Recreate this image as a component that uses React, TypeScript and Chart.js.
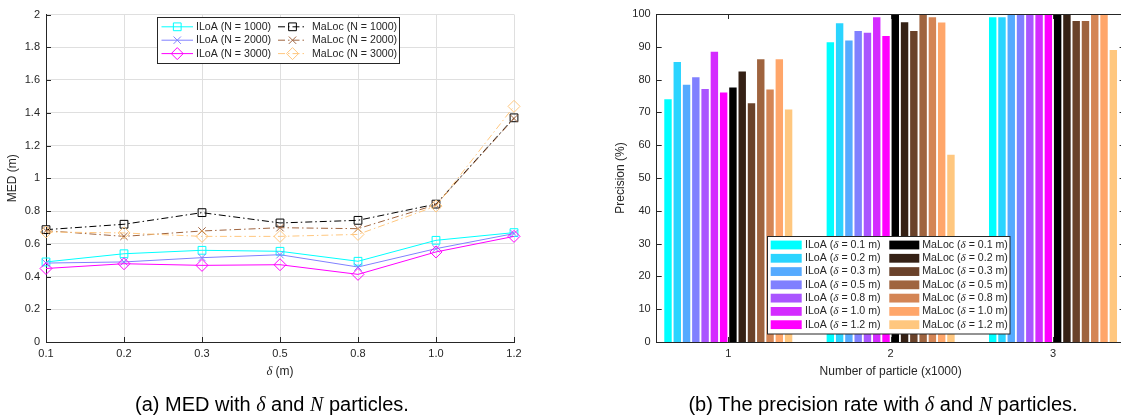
import React, { useEffect, useRef } from 'react';
import { Chart, registerables } from 'chart.js';

Chart.register(...registerables);

// ---------------- (a) MED data ----------------
const deltaLabels = ['0.1', '0.2', '0.3', '0.5', '0.8', '1.0', '1.2'];
const methods = ['ILoA', 'MaLoc'];
const particleCounts = ['1000', '2000', '3000'];

const medIloa1000 = [0.489, 0.539, 0.56, 0.554, 0.493, 0.621, 0.668];
const medIloa2000 = [0.482, 0.489, 0.515, 0.533, 0.458, 0.57, 0.662];
const medIloa3000 = [0.449, 0.478, 0.468, 0.472, 0.413, 0.55, 0.645];
const medMaloc1000 = [0.686, 0.719, 0.79, 0.727, 0.743, 0.842, 1.369];
const medMaloc2000 = [0.68, 0.645, 0.678, 0.698, 0.692, 0.838, 1.365];
const medMaloc3000 = [0.672, 0.666, 0.645, 0.645, 0.657, 0.83, 1.439];

const medYMin = 0;
const medYMax = 2;
const medYStep = 0.2;

// ---------------- (b) precision data ----------------
const particleGroups = [1, 2, 3];
const precIloa01 = [74.0, 91.4, 99.0];
const precIloa02 = [85.4, 97.2, 99.0];
const precIloa03 = [78.4, 91.9, 100];
const precIloa05 = [80.7, 94.8, 100];
const precIloa08 = [77.1, 94.3, 100];
const precIloa10 = [88.5, 99.0, 100];
const precIloa12 = [76.1, 93.3, 100];
const precMaloc01 = [77.6, 100, 100];
const precMaloc02 = [82.5, 97.5, 100];
const precMaloc03 = [72.8, 94.8, 97.9];
const precMaloc05 = [86.2, 100, 97.9];
const precMaloc08 = [77.0, 99.0, 100];
const precMaloc10 = [86.2, 97.4, 100];
const precMaloc12 = [70.9, 57.1, 89.0];

const precYMin = 0;
const precYMax = 100;
const precYStep = 10;
const precXMin = 0.559;
const precXMax = 3.441;

// ---------------- styles ----------------
const SANS = '"Liberation Sans", Arial, Helvetica, sans-serif';
const SERIF = '"Liberation Serif", "DejaVu Serif", serif';
const TEXT = '#262626';
const AXIS = '#262626';
const GRID = '#DFDFDF';
const DASHDOT = [7, 3, 1.5, 3];

const iloaColors = ['#00FFFF', '#2AD4FF', '#55AAFF', '#8080FF', '#AA55FF', '#D42BFF', '#FF00FF'];
const malocColors = ['#000000', '#352115', '#6A422A', '#9F643F', '#D48555', '#FFA66A', '#FFC77F'];

const medLineColors = [
  ['#00FFFF', '#8080FF', '#FF00FF'],
  ['#000000', '#9F643F', '#FFC77F'],
];
const medMarkers = ['rect', 'crossRot', 'rectRot'];
const markerRadius: Record<string, number> = { rect: 5.5, crossRot: 5.2, rectRot: 6 };

const medData = [
  [medIloa1000, medIloa2000, medIloa3000],
  [medMaloc1000, medMaloc2000, medMaloc3000],
];
const precData = [
  [precIloa01, precIloa02, precIloa03, precIloa05, precIloa08, precIloa10, precIloa12],
  [precMaloc01, precMaloc02, precMaloc03, precMaloc05, precMaloc08, precMaloc10, precMaloc12],
];

type Seg = { t: string; it?: boolean };

function drawRich(ctx: CanvasRenderingContext2D, segs: Seg[], x: number, y: number, size: number, align: 'left' | 'center') {
  const fonts = segs.map((s) => (s.it ? `italic ${size * 1.05}px ${SERIF}` : `${size}px ${SANS}`));
  const widths = segs.map((s, i) => {
    ctx.font = fonts[i];
    return ctx.measureText(s.t).width;
  });
  const total = widths.reduce((a, b) => a + b, 0);
  let cx = align === 'center' ? x - total / 2 : x;
  ctx.textAlign = 'left';
  ctx.textBaseline = 'middle';
  segs.forEach((s, i) => {
    ctx.font = fonts[i];
    ctx.fillText(s.t, cx, y);
    cx += widths[i];
  });
}

function drawMarker(ctx: CanvasRenderingContext2D, kind: string, x: number, y: number, r: number, color: string) {
  ctx.save();
  ctx.setLineDash([]);
  ctx.strokeStyle = color;
  ctx.lineWidth = 1;
  ctx.beginPath();
  if (kind === 'rect') {
    const h = r * Math.SQRT1_2;
    ctx.rect(x - h, y - h, 2 * h, 2 * h);
  } else if (kind === 'crossRot') {
    const h = r * Math.SQRT1_2;
    ctx.moveTo(x - h, y - h);
    ctx.lineTo(x + h, y + h);
    ctx.moveTo(x - h, y + h);
    ctx.lineTo(x + h, y - h);
  } else {
    ctx.moveTo(x, y - r);
    ctx.lineTo(x + r, y);
    ctx.lineTo(x, y + r);
    ctx.lineTo(x - r, y);
    ctx.closePath();
  }
  ctx.stroke();
  ctx.restore();
}

// ---------------- (a) chart ----------------
const medDecor = {
  id: 'medDecor',
  afterDraw(chart: any) {
    const { ctx, chartArea: a, scales } = chart;
    const xs = scales.x;
    const ys = scales.y;
    ctx.save();
    // inward ticks
    ctx.strokeStyle = AXIS;
    ctx.lineWidth = 1;
    ctx.setLineDash([]);
    ctx.beginPath();
    ys.ticks.forEach((t: any) => {
      const y = Math.round(ys.getPixelForValue(t.value)) + 0.5;
      ctx.moveTo(a.left, y);
      ctx.lineTo(a.left + 5, y);
    });
    xs.ticks.forEach((_t: any, i: number) => {
      const x = Math.round(xs.getPixelForTick(i)) + 0.5;
      ctx.moveTo(x, a.bottom);
      ctx.lineTo(x, a.bottom - 5);
    });
    ctx.stroke();

    // axis titles
    ctx.fillStyle = TEXT;
    ctx.save();
    ctx.translate(a.left - 33.5, (a.top + a.bottom) / 2);
    ctx.rotate(-Math.PI / 2);
    ctx.font = `12px ${SANS}`;
    ctx.textAlign = 'center';
    ctx.textBaseline = 'middle';
    ctx.fillText('MED (m)', 0, 0);
    ctx.restore();
    drawRich(ctx, [{ t: 'δ', it: true }, { t: ' (m)' }], (a.left + a.right) / 2, a.bottom + 30, 12, 'center');

    // legend
    const bx = 157.5, by = 17.5, bw = 242, bh = 46;
    ctx.fillStyle = '#FFFFFF';
    ctx.fillRect(bx, by, bw, bh);
    ctx.strokeStyle = AXIS;
    ctx.lineWidth = 1;
    ctx.strokeRect(bx, by, bw, bh);
    const colLine = [[161.5, 193], [278, 307]];
    const colText = [196, 312];
    methods.forEach((m, mi) => {
      particleCounts.forEach((n, ni) => {
        const y = 26.8 + ni * 13.4;
        const color = medLineColors[mi][ni];
        ctx.save();
        ctx.strokeStyle = color;
        ctx.lineWidth = 1;
        ctx.setLineDash(mi === 1 ? DASHDOT : []);
        ctx.beginPath();
        ctx.moveTo(colLine[mi][0], y);
        ctx.lineTo(colLine[mi][1], y);
        ctx.stroke();
        ctx.restore();
        const mk = medMarkers[ni];
        drawMarker(ctx, mk, (colLine[mi][0] + colLine[mi][1]) / 2, y, markerRadius[mk], color);
        ctx.fillStyle = TEXT;
        drawRich(ctx, [{ t: `${m} (N = ${n})` }], colText[mi], y, 10.6, 'left');
      });
    });
    ctx.restore();
  },
};

function MedChart() {
  const ref = useRef<HTMLCanvasElement>(null);
  useEffect(() => {
    const datasets: any[] = [];
    methods.forEach((m, mi) => {
      particleCounts.forEach((n, ni) => {
        const color = medLineColors[mi][ni];
        const mk = medMarkers[ni];
        datasets.push({
          label: `${m} (N = ${n})`,
          data: medData[mi][ni],
          borderColor: color,
          backgroundColor: 'rgba(0,0,0,0)',
          borderWidth: 1,
          borderDash: mi === 1 ? DASHDOT : [],
          pointStyle: mk,
          pointRadius: markerRadius[mk],
          pointBorderColor: color,
          pointBackgroundColor: 'rgba(0,0,0,0)',
          pointBorderWidth: 1,
          tension: 0,
          clip: false,
          order: -datasets.length,
        });
      });
    });
    const chart = new Chart(ref.current as HTMLCanvasElement, {
      type: 'line',
      data: { labels: deltaLabels, datasets },
      options: {
        responsive: false,
        animation: false,
        devicePixelRatio: 1,
        layout: { padding: { left: 0, right: 46, top: 14.5, bottom: 0 } },
        plugins: { legend: { display: false }, tooltip: { enabled: false } },
        scales: {
          x: {
            type: 'category',
            offset: false,
            grid: { color: GRID, lineWidth: 1, drawTicks: false },
            border: { display: true, color: AXIS, width: 1 },
            ticks: { color: TEXT, font: { family: SANS, size: 11 }, padding: 5, maxRotation: 0, autoSkip: false },
            afterFit: (s: any) => {
              s.height = 53;
            },
          },
          y: {
            min: medYMin,
            max: medYMax,
            grid: { color: GRID, lineWidth: 1, drawTicks: false },
            border: { display: true, color: AXIS, width: 1 },
            ticks: {
              stepSize: medYStep,
              color: TEXT,
              font: { family: SANS, size: 11 },
              padding: 6,
              callback: (v: any) => String(Math.round(Number(v) * 10) / 10),
            },
            afterFit: (s: any) => {
              s.width = 46;
            },
          },
        },
      },
      plugins: [medDecor],
    } as any);
    return () => chart.destroy();
  }, []);
  return (
    <canvas
      ref={ref}
      width={560}
      height={395}
      style={{ position: 'absolute', left: 0, top: 0, width: 560, height: 395 }}
    />
  );
}

// ---------------- (b) chart ----------------
const precDecor = {
  id: 'precDecor',
  afterDraw(chart: any) {
    const { ctx, chartArea: a, scales } = chart;
    const xs = scales.x;
    const ys = scales.y;
    ctx.save();
    ctx.strokeStyle = AXIS;
    ctx.lineWidth = 1;
    ctx.setLineDash([]);
    ctx.beginPath();
    // top and right box edges
    const top = Math.round(a.top) + 0.5;
    const right = Math.round(a.right) - 0.5;
    ctx.moveTo(a.left, top);
    ctx.lineTo(a.right, top);
    ctx.moveTo(right, a.top);
    ctx.lineTo(right, a.bottom);
    ys.ticks.forEach((t: any) => {
      const y = Math.round(ys.getPixelForValue(t.value)) + 0.5;
      ctx.moveTo(a.left, y);
      ctx.lineTo(a.left + 5, y);
      ctx.moveTo(a.right - 5, y);
      ctx.lineTo(a.right, y);
    });
    xs.ticks.forEach((t: any) => {
      const x = Math.round(xs.getPixelForValue(t.value)) + 0.5;
      ctx.moveTo(x, a.top);
      ctx.lineTo(x, a.top + 5);
      ctx.moveTo(x, a.bottom);
      ctx.lineTo(x, a.bottom - 5);
    });
    ctx.stroke();

    // axis titles
    ctx.fillStyle = TEXT;
    ctx.save();
    ctx.translate(a.left - 36, (a.top + a.bottom) / 2);
    ctx.rotate(-Math.PI / 2);
    ctx.font = `12px ${SANS}`;
    ctx.textAlign = 'center';
    ctx.textBaseline = 'middle';
    ctx.fillText('Precision (%)', 0, 0);
    ctx.restore();
    drawRich(ctx, [{ t: 'Number of particle (x1000)' }], (a.left + a.right) / 2, a.bottom + 30, 12, 'center');

    // legend
    const bx = 207.5, by = 236.5, bw = 242.5, bh = 97.5;
    ctx.fillStyle = '#FFFFFF';
    ctx.fillRect(bx, by, bw, bh);
    ctx.strokeStyle = AXIS;
    ctx.strokeRect(bx, by, bw, bh);
    const swX = [210.7, 329.3];
    const swW = [31, 30];
    const txX = [245, 362.3];
    const palettes = [iloaColors, malocColors];
    methods.forEach((m, mi) => {
      deltaLabels.forEach((d, di) => {
        const y = 245 + di * 13.28;
        ctx.fillStyle = palettes[mi][di];
        ctx.fillRect(swX[mi], y - 4.4, swW[mi], 8.8);
        ctx.fillStyle = TEXT;
        drawRich(ctx, [{ t: `${m} (` }, { t: 'δ', it: true }, { t: ` = ${d} m)` }], txX[mi], y, 10.6, 'left');
      });
    });
    ctx.restore();
  },
};

function PrecisionChart() {
  const ref = useRef<HTMLCanvasElement>(null);
  useEffect(() => {
    const datasets: any[] = [];
    const palettes = [iloaColors, malocColors];
    methods.forEach((m, mi) => {
      deltaLabels.forEach((d, di) => {
        datasets.push({
          label: `${m} (δ = ${d} m)`,
          data: particleGroups.map((g, gi) => ({ x: g, y: precData[mi][di][gi] })),
          backgroundColor: palettes[mi][di],
          borderWidth: 0,
          barPercentage: 0.8,
          categoryPercentage: 0.8,
        });
      });
    });
    const chart = new Chart(ref.current as HTMLCanvasElement, {
      type: 'bar',
      data: { datasets },
      options: {
        responsive: false,
        animation: false,
        devicePixelRatio: 1,
        layout: { padding: { left: 0, right: 15.4, top: 14, bottom: 0 } },
        plugins: { legend: { display: false }, tooltip: { enabled: false } },
        scales: {
          x: {
            type: 'linear',
            min: precXMin,
            max: precXMax,
            offset: false,
            grid: { display: false, drawTicks: false, offset: false },
            border: { display: true, color: AXIS, width: 1 },
            ticks: {
              color: TEXT,
              font: { family: SANS, size: 11 },
              padding: 5,
              callback: (v: any) => String(v),
            },
            afterBuildTicks: (s: any) => {
              s.ticks = particleGroups.map((g) => ({ value: g }));
            },
            afterFit: (s: any) => {
              s.height = 53;
            },
          },
          y: {
            min: precYMin,
            max: precYMax,
            grid: { display: false, drawTicks: false },
            border: { display: true, color: AXIS, width: 1 },
            ticks: { stepSize: precYStep, color: TEXT, font: { family: SANS, size: 11 }, padding: 6 },
            afterFit: (s: any) => {
              s.width = 96.7;
            },
          },
        },
      },
      plugins: [precDecor],
    } as any);
    return () => chart.destroy();
  }, []);
  return (
    <canvas
      ref={ref}
      width={580}
      height={395}
      style={{ position: 'absolute', left: 560, top: 0, width: 580, height: 395 }}
    />
  );
}

const captionStyle: React.CSSProperties = {
  position: 'absolute',
  top: 393,
  width: 500,
  textAlign: 'center',
  fontFamily: SANS,
  fontSize: 20,
  lineHeight: '23px',
  color: '#000',
  whiteSpace: 'nowrap',
};
const mathStyle: React.CSSProperties = { fontFamily: SERIF, fontStyle: 'italic' };

export default function App() {
  return (
    <div
      style={{
        position: 'absolute',
        left: 0,
        top: 0,
        width: 1121,
        height: 417,
        overflow: 'hidden',
        background: '#FFFFFF',
      }}
    >
      <MedChart />
      <PrecisionChart />
      <div style={{ ...captionStyle, left: 272 - 250 }}>
        (a) MED with <span style={mathStyle}>δ</span> and <span style={mathStyle}>N</span> particles.
      </div>
      <div style={{ ...captionStyle, left: 883 - 250 }}>
        (b) The precision rate with <span style={mathStyle}>δ</span> and <span style={mathStyle}>N</span> particles.
      </div>
    </div>
  );
}
